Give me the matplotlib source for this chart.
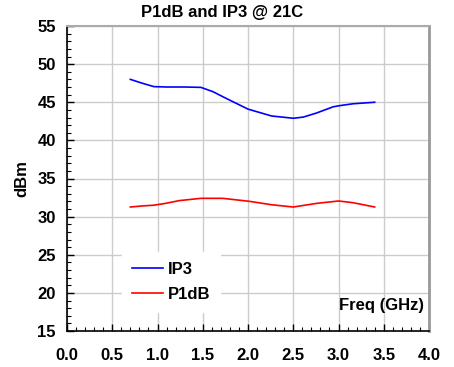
import matplotlib
matplotlib.use("Agg")
import matplotlib.pyplot as plt
from matplotlib.ticker import MultipleLocator

plt.rcParams['font.family'] = ['Liberation Sans', 'DejaVu Sans']

freq_ip3 = [0.70, 0.83, 0.96, 1.10, 1.30, 1.48, 1.61, 1.76, 2.00, 2.26, 2.50, 2.61, 2.76, 2.94, 3.01, 3.16, 3.40]
ip3 = [48.0, 47.5, 47.05, 47.0, 47.0, 46.95, 46.4, 45.5, 44.1, 43.2, 42.9, 43.05, 43.6, 44.4, 44.55, 44.8, 45.0]

freq_p1db = [0.70, 0.83, 0.96, 1.09, 1.24, 1.48, 1.72, 2.02, 2.26, 2.50, 2.76, 3.00, 3.16, 3.40]
p1db = [31.26, 31.4, 31.5, 31.74, 32.1, 32.4, 32.4, 32.0, 31.56, 31.26, 31.74, 32.05, 31.83, 31.26]

title = "P1dB and IP3 @ 21C"
xlabel = "Freq (GHz)"
ylabel = "dBm"

FS = 12

fig = plt.figure(figsize=(4.54, 3.67), dpi=100)
ax = fig.add_axes([67/454, 1 - 331/367, (429 - 67)/454, (331 - 26)/367])

ax.plot(freq_ip3, ip3, color='#0000ff', lw=1.2, label='IP3')
ax.plot(freq_p1db, p1db, color='#ff0000', lw=1.2, label='P1dB')

ax.set_xlim(0, 4.0)
ax.set_ylim(15, 55)
ax.xaxis.set_major_locator(MultipleLocator(0.5))
ax.xaxis.set_minor_locator(MultipleLocator(0.1))
ax.yaxis.set_major_locator(MultipleLocator(5))
ax.yaxis.set_minor_locator(MultipleLocator(1))
ax.xaxis.set_major_formatter(plt.FuncFormatter(lambda v, p: f"{v:.1f}"))
ax.yaxis.set_major_formatter(plt.FuncFormatter(lambda v, p: f"{v:.0f}"))

ax.grid(True, which='major', color='#cccccc', lw=1.0)
ax.set_axisbelow(True)

ax.tick_params(which='both', direction='in', top=False, right=False, color='black')
ax.tick_params(which='major', length=5, width=1, labelsize=FS)
ax.tick_params(which='minor', length=3, width=0.8)
ax.tick_params(axis='x', pad=12)
ax.tick_params(axis='y', pad=8)
for lbl in ax.get_xticklabels() + ax.get_yticklabels():
    lbl.set_fontweight('bold')

ax.spines['left'].set_color('black')
ax.spines['bottom'].set_color('black')
ax.spines['left'].set_linewidth(1.2)
ax.spines['bottom'].set_linewidth(1.2)
ax.spines['right'].set_color('#999999')
ax.spines['right'].set_linewidth(2)
ax.spines['top'].set_color('#aaaaaa')
ax.spines['top'].set_linewidth(1.5)

ax.set_ylabel(ylabel, fontsize=FS, fontweight='bold', labelpad=6)
ax.text(0.985, 0.082, xlabel, transform=ax.transAxes, ha='right', va='center',
        fontsize=FS, fontweight='bold')

fig.text(0.49, 1 - 13/367, title, ha='center', va='center', fontsize=FS, fontweight='bold')

leg = ax.legend(loc='upper left', bbox_to_anchor=((122 - 67)/362, (331 - 252)/305),
                borderaxespad=0,
                frameon=True, fancybox=False, framealpha=1, edgecolor='white',
                prop={'weight': 'bold', 'size': FS}, handlelength=1.85,
                handletextpad=0.3, labelspacing=0.6, borderpad=0.6)

fig.savefig("out.png", dpi=100)
